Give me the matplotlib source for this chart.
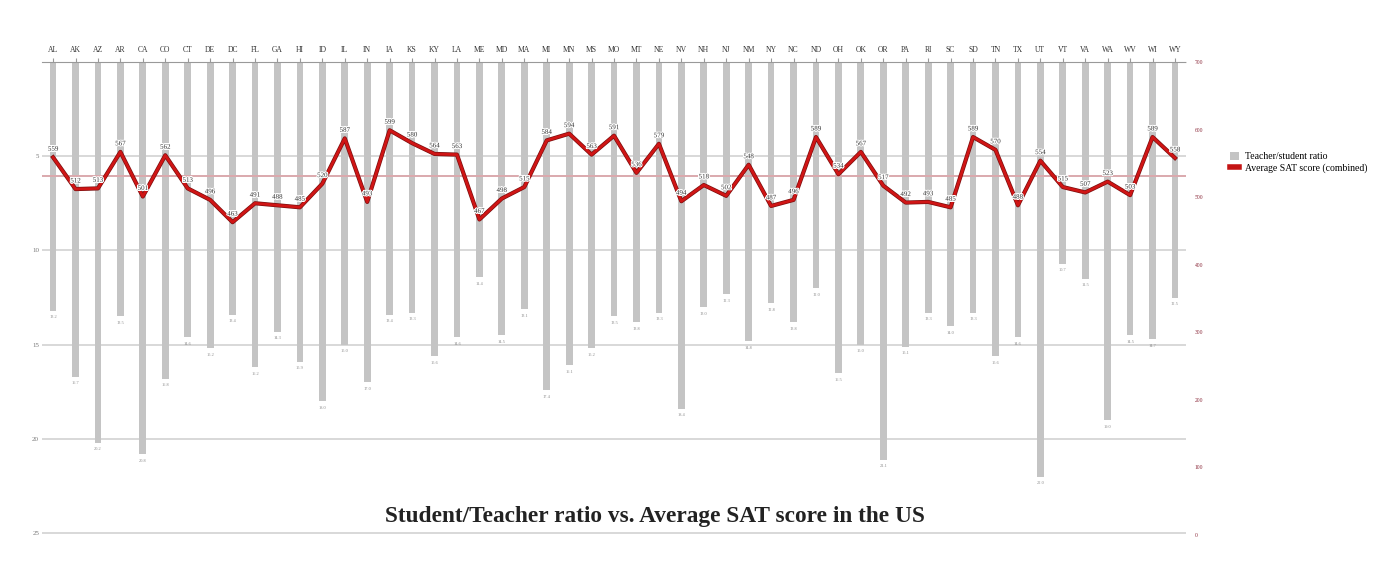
import matplotlib
matplotlib.use("Agg")
import matplotlib.pyplot as plt
import matplotlib.patheffects as pe
from matplotlib.lines import Line2D
from matplotlib.patches import Patch
import numpy as np

plt.rcParams["font.family"] = ["Liberation Serif", "DejaVu Serif"]

states = ["AL", "AK", "AZ", "AR", "CA", "CO", "CT", "DE", "DC", "FL", "GA", "HI", "ID",
          "IL", "IN", "IA", "KS", "KY", "LA", "ME", "MD", "MA", "MI", "MN", "MS", "MO",
          "MT", "NE", "NV", "NH", "NJ", "NM", "NY", "NC", "ND", "OH", "OK", "OR", "PA",
          "RI", "SC", "SD", "TN", "TX", "UT", "VT", "VA", "WA", "WV", "WI", "WY"]

# students per teacher
ratio = [13.2, 16.7, 20.2, 13.5, 20.8, 16.8, 14.6, 15.2, 13.4, 16.2, 14.3, 15.9, 18.0,
         15.0, 17.0, 13.4, 13.3, 15.6, 14.6, 11.4, 14.5, 13.1, 17.4, 16.1, 15.2, 13.5,
         13.8, 13.3, 18.4, 13.0, 12.3, 14.8, 12.8, 13.8, 12.0, 16.5, 15.0, 21.1, 15.1,
         13.3, 14.0, 13.3, 15.6, 14.6, 22.0, 10.7, 11.5, 19.0, 14.5, 14.7, 12.5]

# average SAT score
sat = [559, 512, 513, 567, 501, 562, 513, 496, 463, 491, 488, 485, 520,
       587, 493, 599, 580, 564, 563, 467, 498, 515, 584, 594, 563, 591,
       536, 579, 494, 518, 502, 548, 487, 496, 589, 534, 567, 517, 492,
       493, 485, 589, 570, 488, 554, 515, 507, 523, 503, 589, 558]

ratio_ticks = [5, 10, 15, 20, 25]
sat_ticks = [0, 100, 200, 300, 400, 500, 600, 700]

x = np.arange(len(states))

fig = plt.figure(figsize=(14, 5.63), dpi=100)
ax = fig.add_axes([0.0299, 0.0497, 0.8174, 0.8401])

# bars hang down from the top
for t in ratio_ticks:
    ax.axhline(t, color="#d6d6d6", lw=1.3, zorder=0)
ax.bar(x, ratio, width=0.3, color="#c4c4c4", zorder=2)
for xi, r in zip(x, ratio):
    ax.text(xi, r + 0.25, f"{r:.1f}", ha="center", va="top", fontsize=3.2, color="#8a8a8a")

ax.set_xlim(-0.5, len(states) - 0.5)
ax.set_ylim(25.1, 0)
ax.set_yticks(ratio_ticks)
ax.set_yticklabels([str(t) for t in ratio_ticks], fontsize=5, color="#777777")
ax.tick_params(axis="y", length=0, pad=2)
ax.xaxis.tick_top()
ax.set_xticks(x)
ax.set_xticklabels(states, fontsize=5.5, color="#333333")
ax.tick_params(axis="x", length=3, color="#999999", pad=3)
for s in ["left", "right", "bottom"]:
    ax.spines[s].set_visible(False)
ax.spines["top"].set_color("#999999")
ax.spines["top"].set_linestyle((0, (4, 1)))
ax.spines["top"].set_linewidth(0.8)

# SAT line on the second axis
ax2 = ax.twinx()
ax2.set_ylim(0, 700)
ax2.set_yticks(sat_ticks)
ax2.set_yticklabels([str(t) for t in sat_ticks], fontsize=4, color="#8b2a3a")
ax2.tick_params(axis="y", length=0, pad=6)
for s in ax2.spines.values():
    s.set_visible(False)
ax2.axhline(np.mean(sat), color="#dba9ad", lw=1.4, zorder=1)
ax2.plot(x, sat, color="#d01515", lw=2.0, zorder=3,
         path_effects=[pe.Stroke(linewidth=3.0, foreground="#7a0f0f"), pe.Normal()])
for xi, v in zip(x, sat):
    ax2.annotate(str(v), (xi, v), xytext=(0, 4), textcoords="offset points",
                 ha="center", va="bottom", fontsize=5, color="#333333", zorder=4,
                 path_effects=[pe.withStroke(linewidth=1.5, foreground="white")])

handles = [Patch(facecolor="#c4c4c4", edgecolor="none"),
           Line2D([0], [0], color="#c41414", lw=4)]
fig.legend(handles, ["Teacher/student ratio", "Average SAT score (combined)"],
           loc="upper left", bbox_to_anchor=(0.872, 0.745), frameon=False,
           fontsize=7, handlelength=1.0, handleheight=0.8, labelspacing=0.2,
           handletextpad=0.6)

fig.text(0.468, 0.082, "Student/Teacher ratio vs. Average SAT score in the US",
         ha="center", va="center", fontsize=16.8, fontweight="bold", color="#222222")

fig.savefig("out.png", dpi=100, facecolor="white")
plt.close(fig)
